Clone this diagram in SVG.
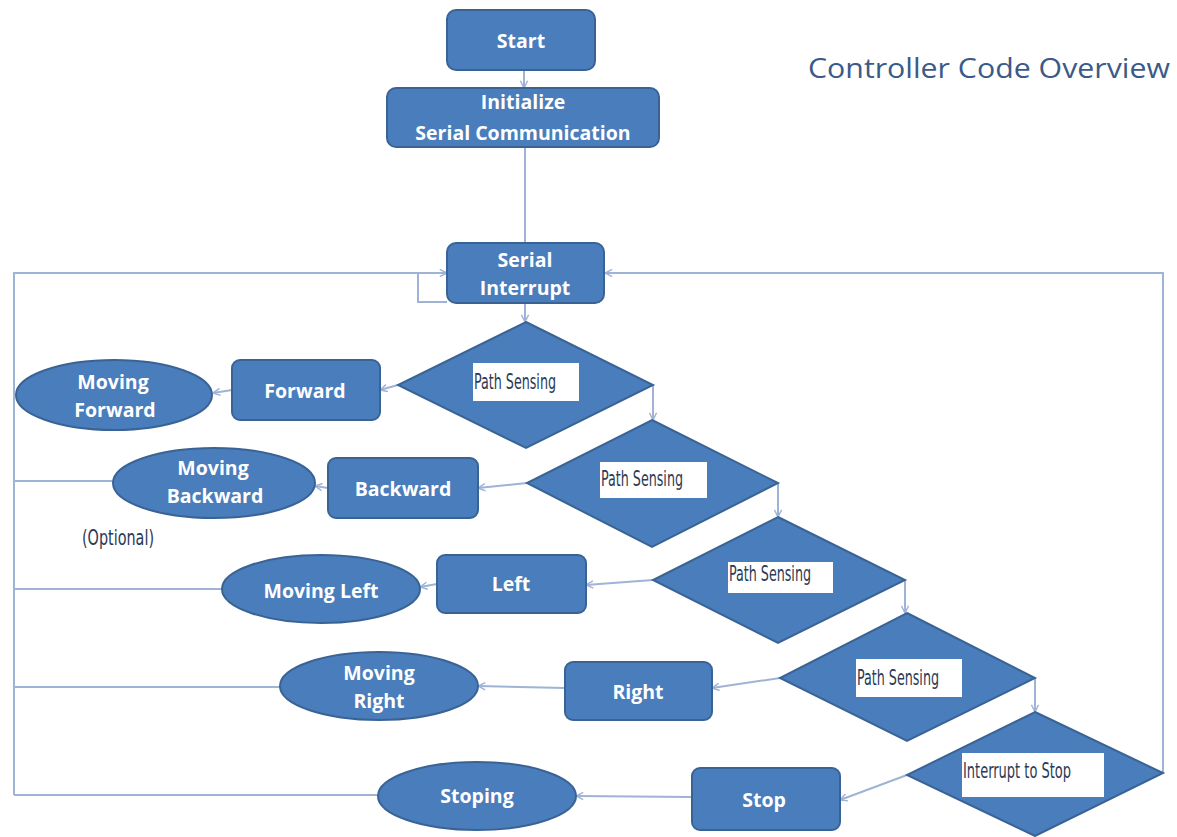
<svg xmlns="http://www.w3.org/2000/svg" width="1177" height="837" viewBox="0 0 1177 837">
  <style>
    .box { fill: #4a7dbb; stroke: #3a6395; stroke-width: 2; }
    .lbl { fill: #ffffff; font-family: "Open Sans", "Liberation Sans", sans-serif; font-weight: bold; font-size: 19.5px; text-anchor: middle; }
    .tag { fill: #ffffff; stroke: none; }
    .tagtxt { fill: #2b3a55; font-family: "DejaVu Sans Condensed", "DejaVu Sans", sans-serif; font-size: 21px; }
    .wire { fill: none; stroke: #9fb3d6; stroke-width: 2; }
    .title { fill: #3b5a87; font-family: "Open Sans", "Liberation Sans", sans-serif; font-size: 27px; }
  </style>
  <defs>
    <marker id="arrow" viewBox="0 0 10 10" refX="9" refY="5" markerWidth="9" markerHeight="9" markerUnits="userSpaceOnUse" orient="auto">
      <path d="M1,1 L9,5 L1,9" fill="none" stroke="#9fb3d6" stroke-width="1.6"/>
    </marker>
  </defs>

  <rect width="1177" height="837" fill="#ffffff"/>

  <text class="title" x="808" y="78" textLength="362" lengthAdjust="spacingAndGlyphs">Controller Code Overview</text>

  <g id="connectors">
    <line class="wire" x1="524" y1="70" x2="524" y2="88" marker-end="url(#arrow)"/>
    <line class="wire" x1="525" y1="147" x2="525" y2="243"/>
    <line class="wire" x1="525" y1="303" x2="525" y2="322" marker-end="url(#arrow)"/>
    <line class="wire" x1="653" y1="385" x2="653" y2="420" marker-end="url(#arrow)"/>
    <line class="wire" x1="778" y1="483" x2="778" y2="517" marker-end="url(#arrow)"/>
    <line class="wire" x1="905" y1="580" x2="905" y2="613" marker-end="url(#arrow)"/>
    <line class="wire" x1="1035" y1="678" x2="1035" y2="712" marker-end="url(#arrow)"/>
    <polyline class="wire" points="1163,773 1163,273 605,273" marker-end="url(#arrow)"/>
    <polyline class="wire" points="14,795 14,273 447,273" marker-end="url(#arrow)"/>
    <polyline class="wire" points="447,302 418,302 418,273"/>
    <line class="wire" x1="113" y1="481" x2="14" y2="481"/>
    <line class="wire" x1="222" y1="589" x2="14" y2="589"/>
    <line class="wire" x1="280" y1="687" x2="14" y2="687"/>
    <line class="wire" x1="378" y1="795" x2="14" y2="795"/>
    <line class="wire" x1="398" y1="385" x2="380" y2="390" marker-end="url(#arrow)"/>
    <line class="wire" x1="232" y1="390" x2="213" y2="393" marker-end="url(#arrow)"/>
    <line class="wire" x1="527" y1="483" x2="478" y2="488" marker-end="url(#arrow)"/>
    <line class="wire" x1="328" y1="488" x2="315" y2="486" marker-end="url(#arrow)"/>
    <line class="wire" x1="653" y1="580" x2="586" y2="585" marker-end="url(#arrow)"/>
    <line class="wire" x1="437" y1="584" x2="420" y2="587" marker-end="url(#arrow)"/>
    <line class="wire" x1="780" y1="678" x2="712" y2="688" marker-end="url(#arrow)"/>
    <line class="wire" x1="565" y1="688" x2="478" y2="686" marker-end="url(#arrow)"/>
    <line class="wire" x1="907" y1="775" x2="840" y2="800" marker-end="url(#arrow)"/>
    <line class="wire" x1="692" y1="797" x2="576" y2="796" marker-end="url(#arrow)"/>
  </g>

  <g id="start">
    <rect class="box" x="447" y="10" width="148" height="60" rx="9"/>
    <text class="lbl" x="521" y="48">Start</text>
  </g>
  <g id="init">
    <rect class="box" x="387" y="88" width="272" height="59" rx="9"/>
    <text class="lbl" x="523" y="109">Initialize</text>
    <text class="lbl" x="523" y="140">Serial Communication</text>
  </g>
  <g id="serial-interrupt">
    <rect class="box" x="447" y="243" width="157" height="60" rx="9"/>
    <text class="lbl" x="525" y="267">Serial</text>
    <text class="lbl" x="525" y="295">Interrupt</text>
  </g>

  <g id="sense-forward">
    <polygon class="box" points="526,322 653,385 526,448 398,385"/>
    <rect class="tag" x="473" y="363" width="106" height="38"/>
    <text class="tagtxt" x="474" y="389" textLength="82" lengthAdjust="spacingAndGlyphs">Path Sensing</text>
  </g>
  <g id="sense-backward">
    <polygon class="box" points="652,420 778,483 652,547 527,483"/>
    <rect class="tag" x="600" y="462" width="107" height="36"/>
    <text class="tagtxt" x="601" y="486" textLength="82" lengthAdjust="spacingAndGlyphs">Path Sensing</text>
  </g>
  <g id="sense-left">
    <polygon class="box" points="778,517 905,580 778,643 653,580"/>
    <rect class="tag" x="728" y="562" width="105" height="31"/>
    <text class="tagtxt" x="729" y="581" textLength="82" lengthAdjust="spacingAndGlyphs">Path Sensing</text>
  </g>
  <g id="sense-right">
    <polygon class="box" points="907,613 1035,678 907,741 780,678"/>
    <rect class="tag" x="856" y="659" width="106" height="38"/>
    <text class="tagtxt" x="857" y="685" textLength="82" lengthAdjust="spacingAndGlyphs">Path Sensing</text>
  </g>
  <g id="interrupt-stop">
    <polygon class="box" points="1035,712 1163,773 1035,836 907,775"/>
    <rect class="tag" x="962" y="753" width="142" height="44"/>
    <text class="tagtxt" x="963" y="778" textLength="108" lengthAdjust="spacingAndGlyphs">Interrupt to Stop</text>
  </g>

  <g id="forward">
    <rect class="box" x="232" y="360" width="148" height="60" rx="8"/>
    <text class="lbl" x="305" y="398">Forward</text>
  </g>
  <g id="moving-forward">
    <ellipse class="box" cx="114" cy="395" rx="98" ry="35"/>
    <text class="lbl" x="113" y="389">Moving</text>
    <text class="lbl" x="115" y="417">Forward</text>
  </g>
  <g id="backward">
    <rect class="box" x="328" y="458" width="150" height="60" rx="8"/>
    <text class="lbl" x="403" y="496">Backward</text>
  </g>
  <g id="moving-backward">
    <ellipse class="box" cx="214" cy="483" rx="101" ry="35"/>
    <text class="lbl" x="213" y="475">Moving</text>
    <text class="lbl" x="215" y="503">Backward</text>
  </g>
  <text class="tagtxt" x="82" y="545" font-size="17" textLength="72" lengthAdjust="spacingAndGlyphs">(Optional)</text>

  <g id="left">
    <rect class="box" x="437" y="555" width="149" height="58" rx="8"/>
    <text class="lbl" x="511" y="591">Left</text>
  </g>
  <g id="moving-left">
    <ellipse class="box" cx="321" cy="589" rx="99" ry="34"/>
    <text class="lbl" x="321" y="598">Moving Left</text>
  </g>
  <g id="right">
    <rect class="box" x="565" y="662" width="147" height="58" rx="8"/>
    <text class="lbl" x="638" y="699">Right</text>
  </g>
  <g id="moving-right">
    <ellipse class="box" cx="379" cy="686" rx="99" ry="34"/>
    <text class="lbl" x="379" y="680">Moving</text>
    <text class="lbl" x="379" y="708">Right</text>
  </g>
  <g id="stop">
    <rect class="box" x="692" y="768" width="148" height="62" rx="8"/>
    <text class="lbl" x="764" y="807">Stop</text>
  </g>
  <g id="stoping">
    <ellipse class="box" cx="477" cy="796" rx="99" ry="34"/>
    <text class="lbl" x="477" y="803">Stoping</text>
  </g>
</svg>
